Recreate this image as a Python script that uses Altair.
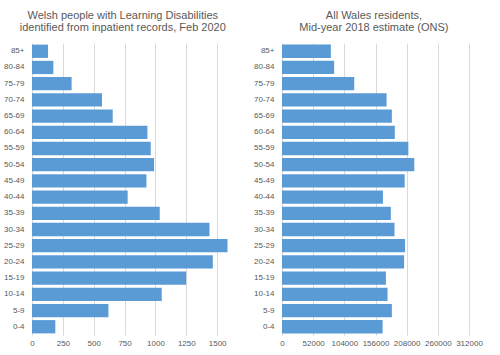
import altair as alt
import pandas as pd

ages = ["85+", "80-84", "75-79", "70-74", "65-69", "60-64", "55-59", "50-54", "45-49",
        "40-44", "35-39", "30-34", "25-29", "20-24", "15-19", "10-14", "5-9", "0-4"]
ld_counts = [130, 173, 321, 567, 654, 935, 962, 989, 927,
             775, 1035, 1438, 1584, 1465, 1249, 1051, 619, 189]
wales_pop = [81500, 87000, 120500, 174500, 183300, 188200, 210800, 220700, 204700,
             168400, 181600, 187700, 205300, 203700, 173400, 176100, 183300, 167900]
left_ticks = [0, 250, 500, 750, 1000, 1250, 1500]
right_ticks = [0, 52000, 104000, 156000, 208000, 260000, 312000]

left_title = ["Welsh people with Learning Disabilities", "identified from inpatient records, Feb 2020"]
right_title = ["All Wales residents,", "Mid-year 2018 estimate (ONS)"]

FONT = "Liberation Sans"
BAR = "#5B9BD5"
GRID = "#D9D9D9"
TXT = "#595959"

df_l = pd.DataFrame({"age": ages, "value": ld_counts})
df_r = pd.DataFrame({"age": ages, "value": wales_pop})

def panel(df, ticks, dmax, width, title, dx):
    return alt.Chart(df, title=alt.Title(
        title, fontSize=11, font=FONT, color=TXT, fontWeight="normal",
        anchor="middle", frame="bounds", lineHeight=12, offset=10, dx=dx)
    ).mark_bar(color=BAR).encode(
        x=alt.X("value:Q", title=None,
                scale=alt.Scale(domain=[0, dmax], nice=False, zero=True),
                axis=alt.Axis(values=ticks, grid=True, gridColor=GRID, gridWidth=1,
                              domain=False, ticks=False, labelFontSize=8,
                              labelColor=TXT, labelFont=FONT, labelPadding=4,
                              format="d", labelFlush=False)),
        y=alt.Y("age:N", title=None, sort=ages,
                scale=alt.Scale(paddingInner=0.18, paddingOuter=0.1),
                axis=alt.Axis(domain=False, ticks=False, labelFontSize=8,
                              labelColor=TXT, labelFont=FONT, labelPadding=8,
                              minExtent=25, maxExtent=25)),
    ).properties(width=width, height=292)

left = panel(df_l, left_ticks, 1750, 216, left_title, -3)
right = panel(df_r, right_ticks, 312000, 187, right_title, 6)

chart = alt.hconcat(left, right, spacing=5).properties(
    padding={"left": 3, "top": 10, "right": 0, "bottom": 0},
    background="white",
).configure_view(stroke=None)

chart.save("out.html", embed_options={"renderer": "svg", "actions": False})
